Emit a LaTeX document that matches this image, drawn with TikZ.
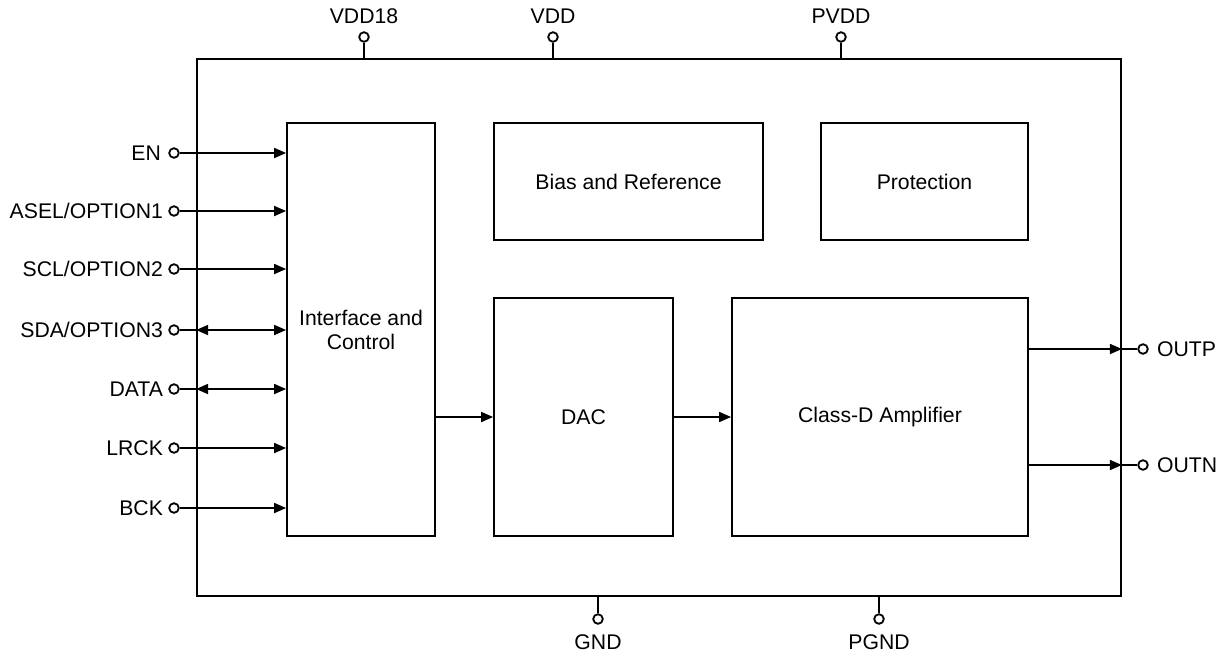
\documentclass[tikz,border=0pt]{standalone}
\usepackage{fontspec}
\setmainfont{Liberation Sans}
\usepackage{tikz}
\usetikzlibrary{positioning, arrows.meta}

\tikzset{
  blk/.style={draw, line width=0.9pt, inner sep=0pt, align=center},
  pad/.style={circle, draw, line width=0.9pt, fill=white, inner sep=0pt, minimum size=4.8pt},
  lbl/.style={inner sep=0pt},
  wire/.style={line width=0.9pt},
  sig/.style={wire, -{Triangle[length=6pt,width=5pt]}},
  bus/.style={wire, {Triangle[length=6pt,width=5pt]}-{Triangle[length=6pt,width=5pt]}}
}

\begin{document}
\begin{tikzpicture}[x=0.5pt, y=-0.5pt, font=\fontsize{10.6}{12}\selectfont]
			\useasboundingbox (0,0) rectangle (1230,655);

			% Blocks
			\node (chip) [blk, minimum width=462pt, minimum height=268.5pt] at (659,327.5) {};
			\node (iface) [blk, minimum width=74pt, minimum height=206.5pt] at (361,329.5) {Interface and\\Control};
			\node (bias) [blk, minimum width=134.5pt, minimum height=58.5pt] at (628.5,181.5) {Bias and Reference};
			\node (prot) [blk, minimum width=103.5pt, minimum height=58.5pt] at (924.5,181.5) {Protection};
			\node (dac) [blk, minimum width=89.5pt, minimum height=119pt] at (583.5,417) {DAC};
			\node (amp) [blk, minimum width=148pt, minimum height=119pt] at (880,417) {Class-D Amplifier};

			% Pins
			\node (en) [pad] at (174,153) {};
			\node (asel) [pad] at (174,211) {};
			\node (scl) [pad] at (174,269) {};
			\node (sda) [pad] at (174,330) {};
			\node (data) [pad] at (174,389) {};
			\node (lrck) [pad] at (174,448) {};
			\node (bck) [pad] at (174,508) {};
			\node (outp) [pad] at (1143,349) {};
			\node (outn) [pad] at (1143,465) {};
			\node (vdd18) [pad] at (364,37) {};
			\node (vdd) [pad] at (553,37) {};
			\node (pvdd) [pad] at (841,37) {};
			\node (gnd) [pad] at (598,619) {};
			\node (pgnd) [pad] at (879,619) {};

			% Pin names
			\node (enl) [lbl, left=3.5pt of en] {EN};
			\node (asell) [lbl, left=2.5pt of asel] {ASEL/OPTION1};
			\node (scll) [lbl, left=2.5pt of scl] {SCL/OPTION2};
			\node (sdal) [lbl, left=2.5pt of sda] {SDA/OPTION3};
			\node (datal) [lbl, left=2.5pt of data] {DATA};
			\node (lrckl) [lbl, left=2.5pt of lrck] {LRCK};
			\node (bckl) [lbl, left=2.5pt of bck] {BCK};
			\node (outpl) [lbl, right=4pt of outp] {OUTP};
			\node (outnl) [lbl, right=4pt of outn] {OUTN};
			\node (vdd18l) [lbl, above=3.5pt of vdd18] {VDD18};
			\node (vddl) [lbl, above=3.5pt of vdd] {VDD};
			\node (pvddl) [lbl, above=3.5pt of pvdd] {PVDD};
			\node (gndl) [lbl, below=5pt of gnd] {GND};
			\node (pgndl) [lbl, below=5pt of pgnd] {PGND};

			% Edges
			\draw [sig] (en) -- (en -| iface.west);
			\draw [sig] (asel) -- (asel -| iface.west);
			\draw [sig] (scl) -- (scl -| iface.west);
			\draw [wire] (sda) -- (sda -| chip.west);
			\draw [bus] (sda -| chip.west) -- (sda -| iface.west);
			\draw [wire] (data) -- (data -| chip.west);
			\draw [bus] (data -| chip.west) -- (data -| iface.west);
			\draw [sig] (lrck) -- (lrck -| iface.west);
			\draw [sig] (bck) -- (bck -| iface.west);
			\draw [sig] (iface.east |- dac.west) -- (dac.west);
			\draw [sig] (dac.east) -- (amp.west);
			\draw [sig] (outp -| amp.east) -- (outp -| chip.east);
			\draw [wire] (outp -| chip.east) -- (outp);
			\draw [sig] (outn -| amp.east) -- (outn -| chip.east);
			\draw [wire] (outn -| chip.east) -- (outn);
			\draw [wire] (vdd18) -- (vdd18 |- chip.north);
			\draw [wire] (vdd) -- (vdd |- chip.north);
			\draw [wire] (pvdd) -- (pvdd |- chip.north);
			\draw [wire] (gnd) -- (gnd |- chip.south);
			\draw [wire] (pgnd) -- (pgnd |- chip.south);

		\end{tikzpicture}
\end{document}
